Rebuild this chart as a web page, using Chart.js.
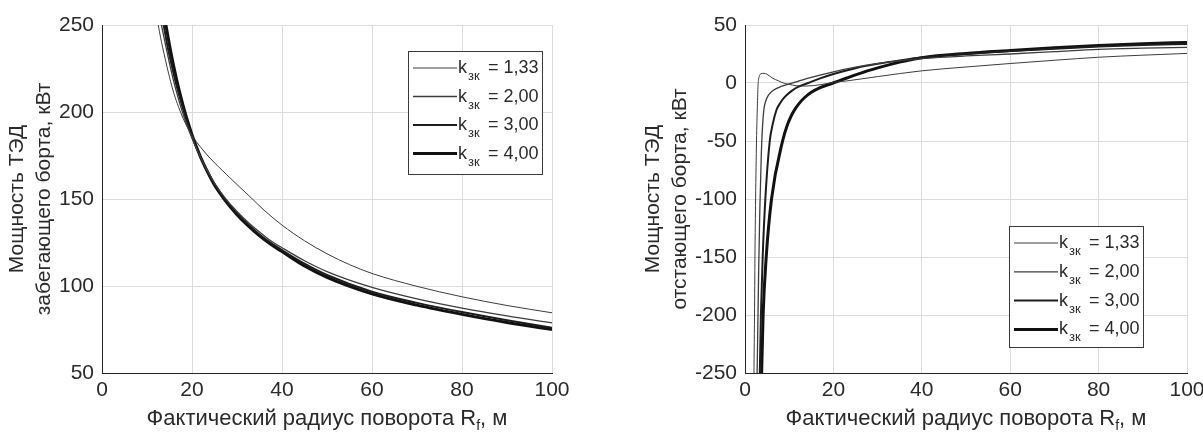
<!DOCTYPE html>
<html>
<head>
<meta charset="utf-8">
<script src="https://cdn.jsdelivr.net/npm/chart.js@4.4.0/dist/chart.umd.min.js"></script>
<style>
  html, body { margin: 0; padding: 0; background: #fff; }
  #wrap { position: relative; width: 1203px; height: 433px; overflow: hidden; }
  canvas { position: absolute; top: 0; }
</style>
</head>
<body>
<div id="wrap">
  <canvas id="leftChart" width="601" height="433" style="left:0;width:601px;height:433px"></canvas>
  <canvas id="rightChart" width="602" height="433" style="left:601px;width:602px;height:433px"></canvas>
</div>
<script>
// --- data ---
var legendValues = ['1,33', '2,00', '3,00', '4,00'];
var xTicksStep = 20;

// left: power of the outer (leading) side motor
var leftX1 = [12.2, 12.5, 13, 14, 15, 16, 17, 18, 19, 20, 21, 22, 24, 27.7, 30, 33.3, 36, 40, 45, 50, 55, 60, 70, 80, 90, 100];
var leftY1 = [254, 250, 243, 231, 220, 210.5, 203, 196.5, 191, 186.5, 182.8, 179.5, 173.5, 164, 158.3, 150.3, 143.6, 135, 126, 118.5, 112.3, 107.2, 99.8, 93.8, 88.8, 84.6];
var leftX2 = [12.9, 13.2, 14, 15, 16, 17, 18, 19, 20, 21, 22, 23.5, 25, 27.3, 30, 32.5, 35, 37.5, 40, 45, 50, 60, 70, 80, 90, 100];
var leftY2 = [254, 250, 240, 228, 217, 207.5, 199, 191.5, 185, 179, 173.5, 166, 159.2, 150.8, 142.8, 136.5, 131, 126, 122, 114.5, 108.3, 99.2, 92.6, 87.3, 82.8, 78.8];
var leftX3 = [13.4, 13.7, 14.5, 15, 16, 17, 18, 19, 20, 21, 22, 23.5, 25, 27.3, 30, 32.5, 35, 37.5, 40, 45, 50, 60, 70, 80, 90, 100];
var leftY3 = [254, 250, 238.5, 232.5, 221, 211, 202, 193.5, 186, 179.5, 173.5, 165.5, 158.5, 150, 141.8, 135.3, 129.6, 124.8, 120.6, 112.8, 106.3, 96.7, 90.3, 85, 80.3, 76];
var leftX4 = [13.9, 14.2, 15, 16, 17, 18, 19, 20, 21, 22, 23.5, 25, 27.3, 30, 32.5, 35, 37.5, 40, 45, 50, 60, 70, 80, 90, 100];
var leftY4 = [254, 250, 238.5, 225.5, 214, 204, 195, 187, 180, 173.5, 165.3, 158, 149.4, 141, 134.5, 128.8, 124, 119.8, 111.5, 105, 95.5, 89, 83.7, 79, 75];

// right: power of the inner (lagging) side motor
var rightX1 = [2.0, 2.15, 2.25, 2.4, 2.6, 2.8, 2.95, 3.1, 3.3, 3.6, 4.3, 5.0, 6.3, 7.5, 8.9, 10, 11.6, 13.9, 17, 20, 23, 30, 40, 50, 60, 70, 80, 90, 100];
var rightY1 = [-260, -200, -150, -100, -50, -20, -2, 3.5, 6.5, 8, 8.3, 7.5, 4, 2, -0.3, -1.2, -2.3, -2.6, -1.5, 0.5, 1.8, 5.5, 10.5, 13.8, 16.8, 19.6, 22.2, 24, 25.5];
var rightX2 = [2.7, 2.9, 3.1, 3.35, 3.7, 4.0, 4.3, 4.7, 5.3, 6.5, 8.2, 10, 12, 15, 20, 25, 30, 35, 40, 50, 60, 70, 80, 90, 100];
var rightY2 = [-260, -210, -160, -110, -60, -35, -22, -15.5, -10.5, -6, -3, -0.8, 1.5, 4.8, 9.6, 13.6, 16.8, 19.2, 21, 23.3, 25, 27, 29, 30, 30.7];
var rightX3 = [3.3, 3.6, 4.0, 4.6, 5.6, 6.3, 7.1, 8, 9, 10.5, 12, 14.3, 17, 20, 25, 30, 35, 40, 50, 60, 70, 80, 90, 100];
var rightY3 = [-260, -200, -150, -100, -50, -35, -23.5, -17, -12, -7, -3.4, 0, 4, 7.8, 12.8, 16.5, 19.5, 22, 25, 27.5, 29.5, 31.5, 32.8, 33.6];
var rightX4 = [3.7, 4.1, 4.8, 6.0, 8.5, 9.5, 10.5, 11.5, 12.5, 13.5, 15, 17, 19.9, 23, 25, 30, 35, 40, 50, 60, 70, 80, 90, 100];
var rightY4 = [-260, -200, -150, -100, -50, -37, -28, -21.5, -16.5, -12.5, -8, -4, 0, 4.3, 7, 13, 18, 21.8, 25.5, 28, 30.3, 32.3, 33.8, 35];

var xTitleMain = 'Фактический радиус поворота R';
var xTitleSub = 'f';
var xTitleEnd = ', м';
var leftYTitle = ['Мощность ТЭД', 'забегающего борта, кВт'];
var rightYTitle = ['Мощность ТЭД', 'отстающего борта, кВт'];

// --- styling ---
var FONT = '"Liberation Sans", Arial, Helvetica, sans-serif';
var TXT = '#2a2a2a';
var lineColors = ['#3c3c3c', '#3c3c3c', '#1c1c1c', '#111111'];
var lineWidths = [1, 1.3, 2, 3];

function pts(xs, ys) {
  var out = [];
  for (var i = 0; i < xs.length; i++) out.push({x: xs[i], y: ys[i]});
  return out;
}

function makeSets(xs, ys) {
  var sets = [];
  for (var i = 0; i < xs.length; i++) {
    sets.push({
      label: 'k = ' + legendValues[i],
      data: pts(xs[i], ys[i]),
      borderColor: lineColors[i],
      borderWidth: lineWidths[i],
      pointRadius: 0,
      fill: false,
      cubicInterpolationMode: 'monotone'
    });
  }
  return sets;
}

var framePlugin = {
  id: 'frame',
  afterDraw: function (chart, args, o) {
    var ctx = chart.ctx;
    var a = chart.chartArea;
    ctx.save();
    ctx.fillStyle = TXT;

    // y title, two lines rotated
    ctx.font = '21px ' + FONT;
    ctx.textAlign = 'center';
    ctx.textBaseline = 'middle';
    var cy = (a.top + a.bottom) / 2;
    o.yTitle.forEach(function (line, i) {
      ctx.save();
      ctx.translate(o.yTitleX[i], cy);
      ctx.rotate(-Math.PI / 2);
      ctx.fillText(line, 0, 0);
      ctx.restore();
    });

    // x title with subscript
    ctx.textAlign = 'left';
    ctx.textBaseline = 'alphabetic';
    ctx.font = '22px ' + FONT;
    var w1 = ctx.measureText(xTitleMain).width;
    var w3 = ctx.measureText(xTitleEnd).width;
    ctx.font = '14px ' + FONT;
    var w2 = ctx.measureText(xTitleSub).width;
    var cx = (a.left + a.right) / 2;
    var x0 = cx - (w1 + w2 + w3) / 2;
    var by = 425;
    ctx.font = '22px ' + FONT;
    ctx.fillText(xTitleMain, x0, by);
    ctx.font = '14px ' + FONT;
    ctx.fillText(xTitleSub, x0 + w1, by + 5);
    ctx.font = '22px ' + FONT;
    ctx.fillText(xTitleEnd, x0 + w1 + w2, by);

    // legend box
    var L = o.legend;
    ctx.fillStyle = '#ffffff';
    ctx.fillRect(L.x, L.y, L.w, L.h);
    ctx.strokeStyle = '#3a3a3a';
    ctx.lineWidth = 1;
    ctx.strokeRect(L.x + 0.5, L.y + 0.5, L.w, L.h);
    chart.data.datasets.forEach(function (ds, i) {
      var ly = L.y + L.first + i * L.step;
      ctx.strokeStyle = ds.borderColor;
      ctx.lineWidth = ds.borderWidth;
      ctx.beginPath();
      ctx.moveTo(L.x + 5, ly);
      ctx.lineTo(L.x + 49, ly);
      ctx.stroke();
      ctx.fillStyle = TXT;
      ctx.font = '18px ' + FONT;
      ctx.fillText('k', L.x + 50, ly + 5);
      ctx.font = '13px ' + FONT;
      ctx.fillText('зк', L.x + 60, ly + 12);
      ctx.font = '18px ' + FONT;
      ctx.fillText('= ' + legendValues[i], L.x + 80, ly + 5);
    });
    ctx.restore();
  }
};

function makeChart(id, sets, yMin, yMax, yWidth, padRight, yTitle, yTitleX, legend) {
  return new Chart(document.getElementById(id), {
    type: 'line',
    data: { datasets: sets },
    options: {
      responsive: false,
      animation: false,
      devicePixelRatio: 1,
      layout: { padding: { top: 25, right: padRight, left: 0, bottom: 0 } },
      plugins: {
        legend: { display: false },
        tooltip: { enabled: false },
        frame: { yTitle: yTitle, yTitleX: yTitleX, legend: legend }
      },
      scales: {
        x: {
          type: 'linear', min: 0, max: 100,
          ticks: { stepSize: xTicksStep, color: TXT, font: { size: 21, family: FONT }, padding: 5, maxRotation: 0,
                   callback: function (v) { return String(v); } },
          grid: { color: '#dcdcdc', drawTicks: false },
          border: { color: '#262626', width: 1 },
          afterFit: function (s) { s.height = 60; s.paddingLeft = 0; s.paddingRight = 0; }
        },
        y: {
          type: 'linear', min: yMin, max: yMax,
          ticks: { stepSize: 50, color: TXT, font: { size: 21, family: FONT }, padding: 8,
                   callback: function (v) { return String(v); } },
          grid: { color: '#dcdcdc', drawTicks: false },
          border: { color: '#262626', width: 1 },
          afterFit: function (s) { s.width = yWidth; s.paddingTop = 0; s.paddingBottom = 0; }
        }
      }
    },
    plugins: [framePlugin]
  });
}

makeChart('leftChart',
  makeSets([leftX1, leftX2, leftX3, leftX4], [leftY1, leftY2, leftY3, leftY4]),
  50, 250, 102, 49, leftYTitle, [17, 44],
  { x: 408, y: 51, w: 134, h: 123, first: 17, step: 28.5 });

makeChart('rightChart',
  makeSets([rightX1, rightX2, rightX3, rightX4], [rightY1, rightY2, rightY3, rightY4]),
  -250, 50, 144, 16, rightYTitle, [52, 79],
  { x: 408, y: 226, w: 134, h: 121, first: 17, step: 28.8 });
</script>
</body>
</html>
